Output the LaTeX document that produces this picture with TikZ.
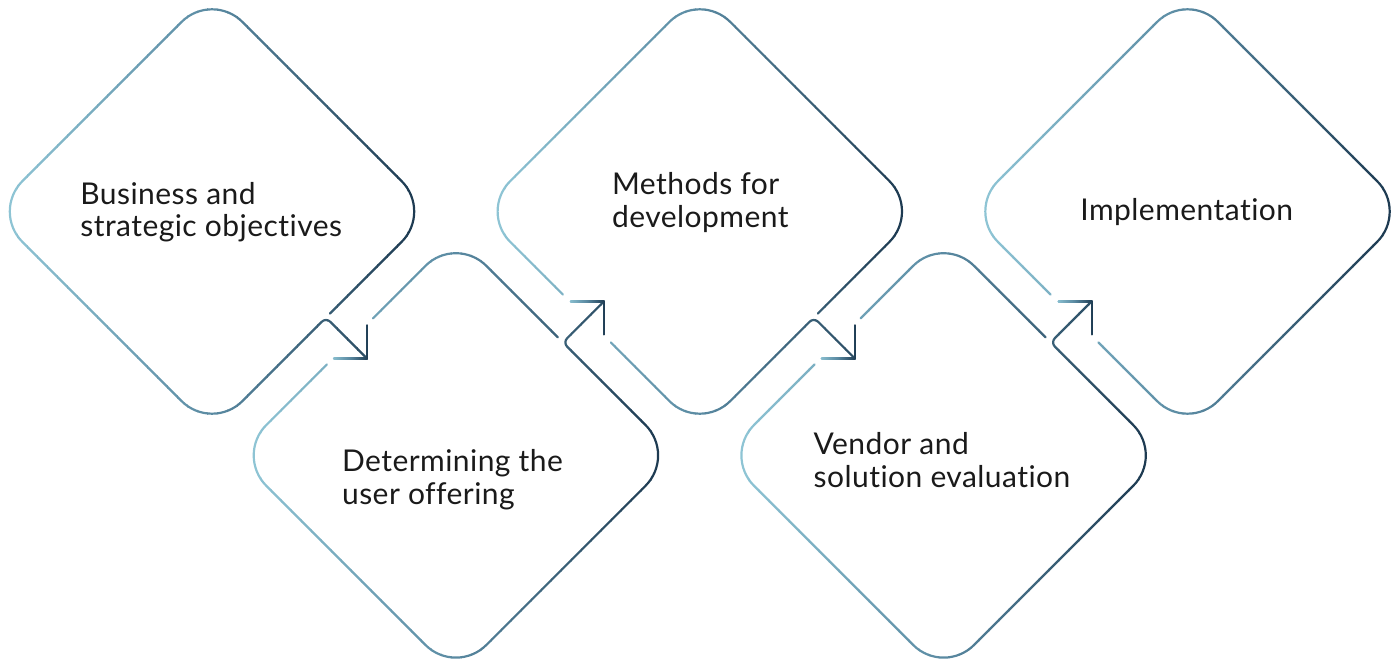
\documentclass[tikz,border=0pt]{standalone}
\usepackage{fontspec}
\setmainfont{Lato}[LetterSpace=1.5,Ligatures={NoCommon,NoRare}]
\definecolor{rimlight}{HTML}{8EC4D4}
\definecolor{rimmid}{HTML}{5A8AA2}
\definecolor{rimdark}{HTML}{1E3B52}
\definecolor{inkgray}{HTML}{1A1A1A}

% stroke a path with a left-to-right colour ramp, strip by strip
\newcommand{\ramp}[4]{%
  \foreach \k in {0,...,40} {
    \pgfmathtruncatemacro{\pc}{5*\k}
    \ifnum\pc<100 \colorlet{rampc}{rimmid!\pc!rimlight}%
    \else \pgfmathtruncatemacro{\pd}{\pc-100}\colorlet{rampc}{rimdark!\pd!rimmid}\fi
    \pgfmathsetmacro{\xw}{((#3)-(#2))/41}
    \pgfmathsetmacro{\xa}{(#2)+\xw*\k}
    \begin{scope}[shift={(#1)}]
      \clip (\xa,-260) rectangle ++(\xw+0.8,520);
      \draw[rim,rampc] #4;
    \end{scope}
  }
}

\begin{document}
\begin{tikzpicture}[x=0.5pt,y=-0.5pt,
    rim/.style={line width=1.1pt,line cap=round,line join=round},
    rimround/.style={rounded corners=21.5pt},
    lbl/.style={font={\fontsize{15pt}{16.2pt}\selectfont},text=inkgray,align=left,anchor=base west}]
  \tikzstyle{every node}+=[inner sep=0pt]
  \useasboundingbox (0,0) rectangle (1395,658);
  \coordinate (d1) at (212,211.5);
  \coordinate (d2) at (455.9,455.4);
  \coordinate (d3) at (699.8,211.5);
  \coordinate (d4) at (943.6,455.4);
  \coordinate (d5) at (1187.5,211.5);

  % step 1
  \ramp{d1}{-205}{205}{[rimround] (118,102) -- (220,0) -- (0,-220) -- (-220,0) -- (0,220) [rounded corners=3pt] -- (114,106) -- (155,147)}
  \ramp{d1}{119}{157}{(122,147) -- (155,147) -- (155,114)}
  % step 2
  \ramp{d2}{-205}{205}{[rimround] (-83,-137) -- (0,-220) -- (102,-118) (-129,-91) -- (-220,0) -- (0,220) -- (220,0) [rounded corners=3pt] -- (107,-113) -- (148,-154)}
  \ramp{d2}{112}{150}{(115,-154) -- (148,-154) -- (148,-121)}
  % step 3
  \ramp{d3}{-205}{205}{[rimround] (118,102) -- (220,0) -- (0,-220) -- (-220,0) -- (-137,83) (-89,131) -- (0,220) [rounded corners=3pt] -- (114,106) -- (155,147)}
  \ramp{d3}{119}{157}{(122,147) -- (155,147) -- (155,114)}
  % step 4
  \ramp{d4}{-205}{205}{[rimround] (-83,-137) -- (0,-220) -- (102,-118) (-129,-91) -- (-220,0) -- (0,220) -- (220,0) [rounded corners=3pt] -- (107,-113) -- (148,-154)}
  \ramp{d4}{112}{150}{(115,-154) -- (148,-154) -- (148,-121)}
  % step 5
  \ramp{d5}{-205}{205}{[rimround] (-89,131) -- (0,220) -- (220,0) -- (0,-220) -- (-220,0) -- (-137,83)}

  \node[lbl] (bso) at (80,236.5) {Business and\\strategic objectives};
  \node[lbl] (duo) at (341.7,504) {Determining the\\user offering};
  \node[lbl] (mfd) at (611.7,227) {Methods for\\development};
  \node[lbl] (vse) at (813.3,487) {Vendor and\\solution evaluation};
  \node[lbl] (imp) at (1080,220.7) {Implementation};
\end{tikzpicture}
\end{document}
